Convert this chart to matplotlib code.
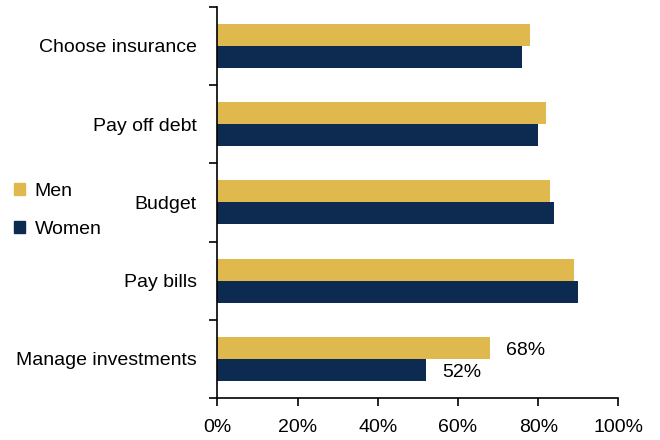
import numpy as np
import matplotlib
matplotlib.use("Agg")
import matplotlib.pyplot as plt
from matplotlib.patches import Patch

plt.rcParams["font.family"] = ["Liberation Sans", "DejaVu Sans"]

# Data (bottom to top)
categories = ["Manage investments", "Pay bills", "Budget", "Pay off debt", "Choose insurance"]
men = [68, 89, 83, 82, 78]
women = [52, 90, 84, 80, 76]

GOLD = "#E0B94E"
NAVY = "#0D2B50"
FS = 14

fig = plt.figure(figsize=(6.6, 4.4), dpi=100)
ax = fig.add_axes([0.3295, 0.0955, 0.6075, 0.889])

y = np.arange(len(categories))
h = 0.28
ax.barh(y + h / 2, men, height=h, color=GOLD, label="Men")
ax.barh(y - h / 2, women, height=h, color=NAVY, label="Women")

ax.set_xlim(0, 100)
ax.set_ylim(-0.5, len(categories) - 0.5)
ax.set_xticks(np.arange(0, 101, 20))
ax.set_xticklabels([f"{v}%" for v in range(0, 101, 20)], fontsize=FS)

# category labels between boundary ticks
ax.set_yticks(y)
ax.set_yticklabels(categories, fontsize=FS)
ax.tick_params(axis="y", which="major", length=0, pad=15)
ax.set_yticks(np.arange(-0.5, len(categories), 1), minor=True)
ax.tick_params(axis="y", which="minor", length=6, width=1.2, direction="out")
ax.tick_params(axis="x", length=6, width=1.2, direction="out", pad=9)

for s in ["top", "right"]:
    ax.spines[s].set_visible(False)
for s in ["left", "bottom"]:
    ax.spines[s].set_linewidth(1.2)

# value labels for Manage investments
ax.text(men[0] + 4, y[0] + h / 2 - 0.03, f"{men[0]}%", va="center", ha="left", fontsize=FS)
ax.text(women[0] + 4, y[0] - h / 2 - 0.03, f"{women[0]}%", va="center", ha="left", fontsize=FS)

handles = [Patch(color=GOLD, label="Men"), Patch(color=NAVY, label="Women")]
fig.legend(handles=handles, loc="center left", bbox_to_anchor=(-0.005, 0.522),
           frameon=False, fontsize=FS, handlelength=0.55, handleheight=0.55,
           handletextpad=0.5, labelspacing=1.05)

fig.savefig("out.png", dpi=100)
